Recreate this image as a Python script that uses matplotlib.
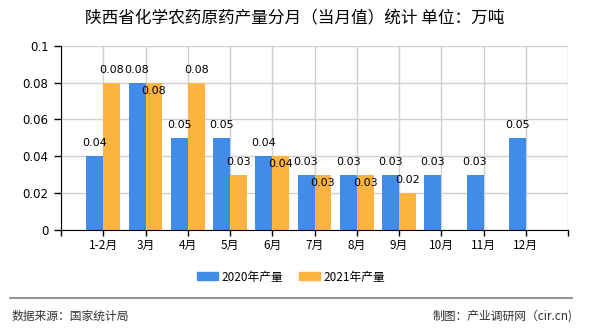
import matplotlib
matplotlib.use("Agg")
import matplotlib.pyplot as plt
import numpy as np
from matplotlib.patches import Patch
from matplotlib.lines import Line2D

plt.rcParams['font.family'] = ['Noto Sans CJK SC', 'DejaVu Sans']

categories = ["1-2月", "3月", "4月", "5月", "6月", "7月", "8月", "9月", "10月", "11月", "12月"]
values_2020 = [0.04, 0.08, 0.05, 0.05, 0.04, 0.03, 0.03, 0.03, 0.03, 0.03, 0.05]
values_2021 = [0.08, 0.08, 0.08, 0.03, 0.04, 0.03, 0.03, 0.02, None, None, None]
series_names = ["2020年产量", "2021年产量"]
title = "陕西省化学农药原药产量分月（当月值）统计 单位：万吨"
yticks = [0, 0.02, 0.04, 0.06, 0.08, 0.1]
ytick_labels = ["0", "0.02", "0.04", "0.06", "0.08", "0.1"]

c_blue = "#418be9"
c_orange = "#fbb440"

fig = plt.figure(figsize=(5.9, 3.3), dpi=100)
ax = fig.add_axes([61/590, 1-229.7/330, (568-61)/590, (229.7-46)/330])

x = np.arange(1, len(categories) + 1)
w = 0.4
v20 = np.array(values_2020, dtype=float)
v21 = np.array([np.nan if v is None else v for v in values_2021], dtype=float)

ax.bar(x - w/2, v20, width=w, color=c_blue, zorder=3)
mask = ~np.isnan(v21)
ax.bar(x[mask] + w/2, v21[mask], width=w, color=c_orange, zorder=3)

lab_font = dict(fontsize=8, family=['DejaVu Sans'], ha='center', va='center', zorder=5)
for xi, v in zip(x, v20):
    ax.annotate(f"{v:.2f}", (xi - w/2, v), xytext=(0, 13), textcoords='offset pixels', **lab_font)
for xi, v, b in zip(x, v21, v20):
    if np.isnan(v):
        continue
    off = 13
    if abs(v - b) < 1e-9:
        off = -8
    ax.annotate(f"{v:.2f}", (xi + w/2, v), xytext=(0, off), textcoords='offset pixels', **lab_font)

ax.set_xlim(0, len(categories) + 1)
ax.set_ylim(0, 0.1)
ax.set_yticks(yticks)
ax.set_yticklabels(ytick_labels, family=['DejaVu Sans'], fontsize=8.5)
ax.set_xticks(np.arange(0, len(categories) + 2))
ax.set_xticklabels([""] + categories + [""], fontsize=8.5)
ax.tick_params(axis='y', length=5, width=1, color='black', pad=4)
ax.tick_params(axis='x', length=4, width=1, color='black', pad=3)

ax.grid(True, color='#d0d0d0', linewidth=1, zorder=0)
ax.set_axisbelow(True)
for s in ['top', 'right']:
    ax.spines[s].set_visible(False)
ax.spines['left'].set_color('black')
ax.spines['bottom'].set_color('black')
ax.spines['left'].set_zorder(4)
ax.spines['bottom'].set_zorder(4)

fig.text(295/590, 1-19/330, title, ha='center', va='center', fontsize=12)

handles = [Patch(color=c_blue, label=series_names[0]), Patch(color=c_orange, label=series_names[1])]
fig.legend(handles=handles, loc='center', bbox_to_anchor=(291/590, 1-277/330), ncol=2, frameon=False,
           fontsize=8.5, handlelength=1.8, handleheight=0.65, handletextpad=0.3, columnspacing=1.3)

fig.add_artist(Line2D([10/590, 572/590], [1-298/330, 1-298/330], color='#808080', linewidth=1.2))
fig.text(12/590, 1-316/330, "数据来源：国家统计局", ha='left', va='center', fontsize=8.5, color='#333333')
fig.text(573/590, 1-316/330, "制图：产业调研网（cir.cn)", ha='right', va='center', fontsize=8.5, color='#333333')

fig.savefig("out.png", dpi=100)
